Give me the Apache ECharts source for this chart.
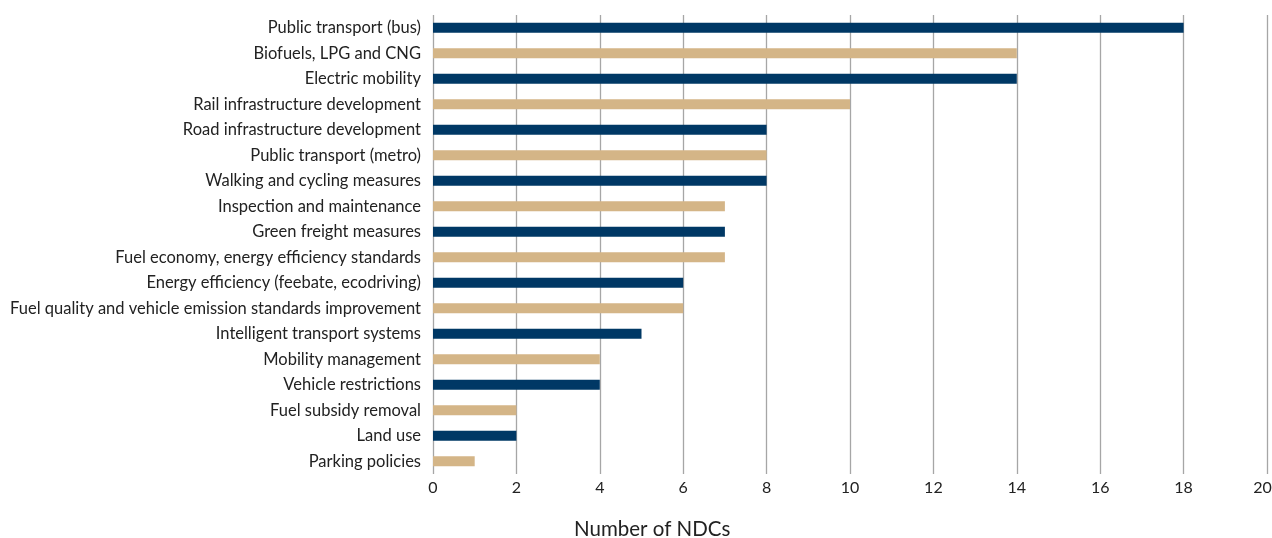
<!DOCTYPE html>
<html><head><meta charset="utf-8">
<script src="https://cdn.jsdelivr.net/npm/echarts@6/dist/echarts.min.js"></script>
<style>html,body{margin:0;padding:0;background:#fff}#c{width:1272px;height:538px}</style>
</head><body><div id="c"></div>
<script>
const categories = [
  "Public transport (bus)",
  "Biofuels, LPG and CNG",
  "Electric mobility",
  "Rail infrastructure development",
  "Road infrastructure development",
  "Public transport (metro)",
  "Walking and cycling measures",
  "Inspection and maintenance",
  "Green freight measures",
  "Fuel economy, energy efficiency standards",
  "Energy efficiency (feebate, ecodriving)",
  "Fuel quality and vehicle emission standards improvement",
  "Intelligent transport systems",
  "Mobility management",
  "Vehicle restrictions",
  "Fuel subsidy removal",
  "Land use",
  "Parking policies"
];
const values = [18, 14, 14, 10, 8, 8, 8, 7, 7, 7, 6, 6, 5, 4, 4, 2, 2, 1];
const xTicks = { min: 0, max: 20, interval: 2 };
const axisTitle = "Number of NDCs";

const colors = ["#003865", "#d4b587"];
const font = "Lato";
const chart = echarts.init(document.getElementById('c'));
chart.setOption({
  animation: false,
  grid: { left: 433, right: 5, top: 15, bottom: 64, outerBoundsMode: 'none', containLabel: false },
  xAxis: {
    type: 'value', min: xTicks.min, max: xTicks.max, interval: xTicks.interval,
    axisLine: { show: false }, axisTick: { show: false },
    splitLine: { show: true, lineStyle: { color: '#a6a6a6', width: 1.3 } },
    axisLabel: {
      color: '#222', fontSize: 16, fontFamily: font, margin: 6,
      formatter: v => v === xTicks.max ? '{r|' + v + '}' : String(v),
      rich: { r: { color: '#222', fontSize: 16, fontFamily: font, padding: [0, 9, 0, 0] } }
    }
  },
  yAxis: {
    type: 'category', data: categories, inverse: true,
    axisLine: { show: false }, axisTick: { show: false },
    axisLabel: { color: '#222', fontSize: 16.5, fontFamily: font, margin: 12 }
  },
  graphic: [{
    type: 'text', left: 653 - 79, top: 519,
    style: { text: axisTitle, fontSize: 20.5, fontFamily: font, fill: '#222' }
  }],
  series: [{
    type: 'bar', data: values, barWidth: 10,
    itemStyle: { color: p => colors[p.dataIndex % 2] }
  }]
});
</script></body></html>
